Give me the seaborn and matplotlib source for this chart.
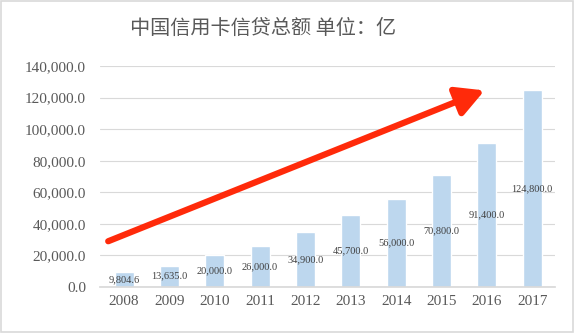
import matplotlib
matplotlib.use("Agg")
import matplotlib.pyplot as plt
import seaborn as sns
import pandas as pd
from matplotlib.patches import Rectangle

years = ["2008", "2009", "2010", "2011", "2012", "2013", "2014", "2015", "2016", "2017"]
values = [9804.6, 13635.0, 20000.0, 26000.0, 34900.0, 45700.0, 56000.0, 70800.0, 91400.0, 124800.0]
y_ticks = [0, 20000, 40000, 60000, 80000, 100000, 120000, 140000]
title = "中国信用卡信贷总额 单位：亿"

sns.set_theme(style="white")
plt.rcParams['font.family'] = ['Liberation Serif', 'Noto Sans CJK SC', 'DejaVu Sans']

df = pd.DataFrame({"year": years, "value": values})

fig = plt.figure(figsize=(5.75, 3.33), dpi=100)
ax = fig.add_axes([0.174, 0.138, 0.791, 0.664])

sns.barplot(data=df, x="year", y="value", color="#BDD7EE", saturation=1, width=0.42, ax=ax, zorder=2)

ax.set_ylim(0, 140000)
ax.set_xlim(-0.53, 9.5)
ax.set_yticks(y_ticks)
ax.set_yticklabels([f"{v:,.1f}" for v in y_ticks])
ax.grid(axis="y", color="#D9D9D9", linewidth=0.8, zorder=0)
ax.set_axisbelow(True)
for s in ["top", "right", "left"]:
    ax.spines[s].set_visible(False)
ax.spines["bottom"].set_color("#D9D9D9")
ax.set_xlabel("")
ax.set_ylabel("")
ax.tick_params(axis="both", length=0, labelsize=11, colors="#595959", pad=6)
ax.tick_params(axis="y", pad=10)

for i, v in enumerate(values):
    ax.text(i, v / 2, f"{v:,.1f}", ha="center", va="center", fontsize=7.5, color="#404040", zorder=3)

ax.annotate("", xy=(7.95, 124500), xytext=(-0.35, 29000),
            arrowprops=dict(arrowstyle="-|>,head_length=1.4,head_width=0.75", color="#FF2A0A",
                            lw=4.5, shrinkA=0, shrinkB=0), zorder=4)

fig.text(0.458, 0.915, title, ha="center", va="center", fontsize=14.5, color="#595959",
         family=['Noto Sans CJK SC', 'DejaVu Sans'], fontweight="medium")

fig.patches.append(Rectangle((0.002, 0.003), 0.995, 0.994, transform=fig.transFigure,
                             fill=False, edgecolor="#D9D9D9", linewidth=1.2))

fig.savefig("out.png", dpi=100)
